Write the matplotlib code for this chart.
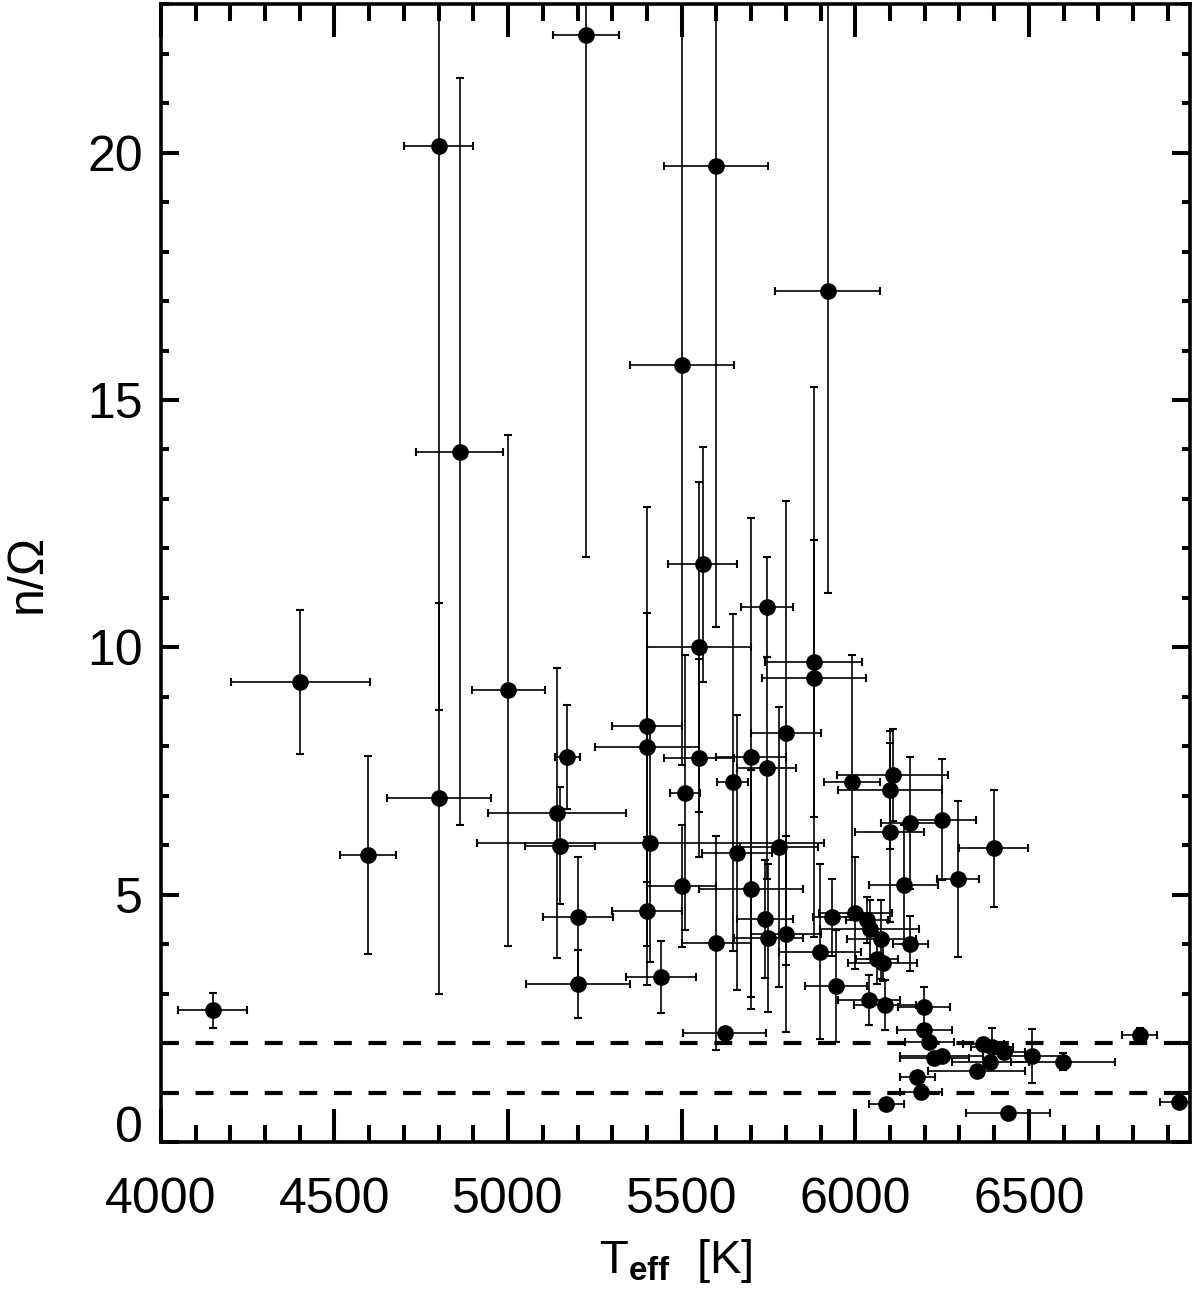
import matplotlib
matplotlib.use("Agg")
import matplotlib.pyplot as plt
from matplotlib.ticker import MultipleLocator

plt.rcParams['font.family'] = ['Liberation Sans', 'DejaVu Sans']
plt.rcParams['mathtext.fontset'] = 'custom'
plt.rcParams['mathtext.rm'] = 'Liberation Sans'
plt.rcParams['mathtext.bf'] = 'Liberation Sans:bold'

# effective temperature [K] and its error
teff = [4149, 4402, 4597, 4800, 4800, 4861, 5000, 5141, 5150, 5171,
        5201, 5201, 5225, 5400, 5400, 5410, 5400, 5440, 5500, 5500,
        5510, 5550, 5550, 5560, 5599, 5600, 5624, 5647, 5659, 5700,
        5700, 5745, 5745, 5740, 5750, 5781, 5801, 5800, 5880, 5880,
        5899, 5920, 5932, 5945, 5990, 6000, 6033, 6041, 6040, 6062,
        6075, 6079, 6086, 6089, 6099, 6108, 6099, 6139, 6158, 6158,
        6179, 6189, 6199, 6199, 6213, 6228, 6249, 6249, 6295, 6350,
        6369, 6393, 6389, 6398, 6429, 6440, 6509, 6598, 6819, 6932]
teff_err = [100, 200, 80, 150, 100, 125, 105, 200, 100, 36,
            100, 150, 95, 100, 150, 500, 100, 100, 150, 100,
            43, 150, 100, 100, 150, 100, 120, 45, 100, 100,
            150, 75, 85, 80, 100, 112, 100, 100, 140, 150,
            118, 150, 55, 90, 80, 105, 60, 143, 90, 60,
            100, 100, 90, 50, 150, 160, 100, 100, 85, 50,
            50, 60, 75, 80, 70, 100, 120, 100, 60, 140,
            60, 60, 110, 100, 60, 120, 90, 150, 51, 55]

# n / Omega and its error
n_omega = [2.66, 9.30, 5.81, 6.95, 20.13, 13.95, 9.13, 6.65, 5.99, 7.78,
           4.54, 3.20, 22.37, 8.40, 7.98, 6.04, 4.67, 3.33, 15.71, 5.17,
           7.06, 10.01, 7.76, 11.68, 19.73, 4.03, 2.21, 7.27, 5.85, 7.78,
           5.11, 10.81, 7.56, 4.51, 4.12, 5.96, 8.27, 4.21, 9.71, 9.38,
           3.85, 17.20, 4.54, 3.16, 7.27, 4.63, 4.49, 4.30, 2.87, 3.70,
           4.10, 3.62, 2.77, 0.76, 7.11, 7.41, 6.26, 5.20, 6.45, 4.01,
           1.32, 1.01, 2.73, 2.27, 2.03, 1.69, 1.73, 6.52, 5.32, 1.43,
           1.99, 1.93, 1.61, 5.94, 1.83, 0.58, 1.74, 1.62, 2.16, 0.80]
n_omega_err = [0.36, 1.45, 2.0, 3.95, 11.4, 7.55, 5.17, 2.93, 1.18, 1.05,
               1.23, 0.69, 10.55, 4.43, 2.72, 2.4, 1.5, 0.73, 8.08, 1.23,
               2.78, 3.33, 2.0, 2.38, 9.32, 2.16, 0.1, 3.41, 2.78, 4.84,
               2.42, 1.01, 2.25, 1.2, 1.5, 2.83, 4.69, 1.98, 5.56, 2.8,
               1.77, 6.1, 0.78, 1.13, 2.58, 1.13, 0.47, 0.6, 0.5, 0.5,
               0.8, 0.37, 0.5, 0.1, 1.19, 0.93, 1.81, 1.2, 1.33, 0.56,
               0.1, 0.15, 0.41, 0.1, 0.1, 0.1, 0.1, 1.22, 1.57, 0.1,
               0.1, 0.37, 0.1, 1.18, 0.1, 0.1, 0.55, 0.17, 0.15, 0.05]

limits = [1.0, 2.0]

fig = plt.figure(figsize=(12, 12.9), dpi=100)
ax = fig.add_axes([0.134, 0.1147, 0.858, 0.882])

ax.errorbar(teff, n_omega, xerr=teff_err, yerr=n_omega_err, fmt='o',
            color='black', markersize=11, elinewidth=1.2, capsize=3,
            capthick=1.5, zorder=3)

for lim in limits:
    ax.axhline(lim, color='black', lw=3, dashes=(4.3, 4.0), zorder=2)

ax.set_xlim(4000, 6965)
ax.set_ylim(0, 23)

ax.set_xticks([4000, 4500, 5000, 5500, 6000, 6500])
ax.set_yticks([0, 5, 10, 15, 20], labels=['0', '5', '10', '15', '20'])
ax.xaxis.set_minor_locator(MultipleLocator(100))
ax.yaxis.set_minor_locator(MultipleLocator(1))

ax.tick_params(which='both', direction='in', top=True, right=True,
               width=2.9, labelsize=36)
ax.tick_params(axis='x', which='major', length=24, pad=25)
ax.tick_params(axis='x', which='minor', length=12)
ax.tick_params(axis='y', which='major', length=13, pad=13)
ax.tick_params(axis='y', which='minor', length=6)
# IDL-style: the zero label sits on the axis instead of being centred
ax.get_yticklabels()[0].set_verticalalignment('baseline')

for spine in ax.spines.values():
    spine.set_linewidth(2.6)

ax.set_xlabel(r'T$_{\mathbf{eff}}$  [K]', fontsize=34, labelpad=10)
ax.set_ylabel('n/Ω', fontsize=36, labelpad=26)

fig.savefig('out.png', dpi=100)
